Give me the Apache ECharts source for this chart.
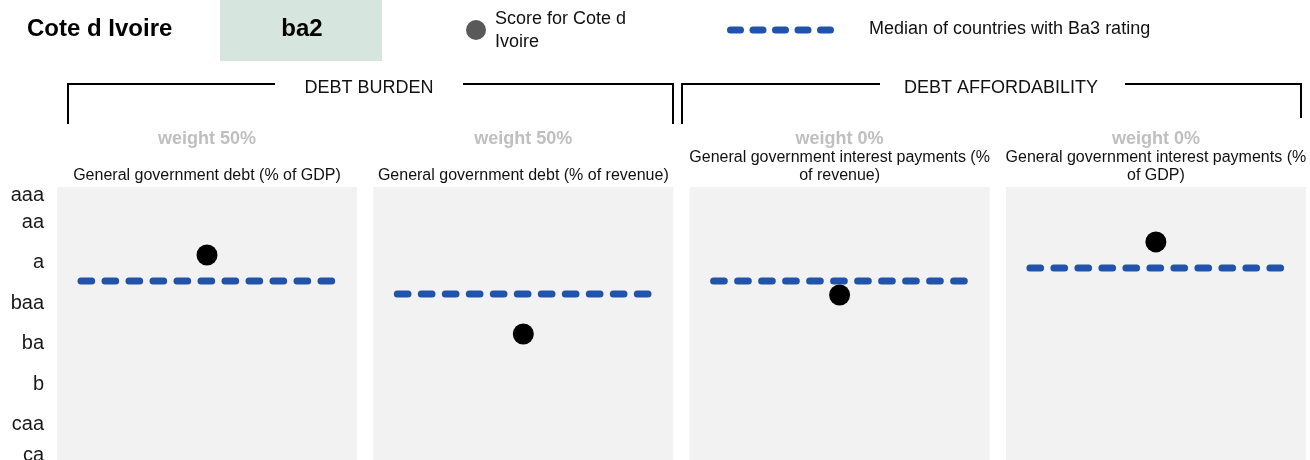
<!DOCTYPE html>
<html>
<head>
<meta charset="utf-8">
<script src="https://cdn.jsdelivr.net/npm/echarts@6/dist/echarts.min.js"></script>
<style>
  html, body { margin: 0; padding: 0; overflow: hidden; background: #fff; }
  #chart { width: 1310px; height: 470px; }
</style>
</head>
<body>
<div id="chart"></div>
<script>
// Scorecard data
const country = 'Cote d Ivoire';
const assignedScore = 'ba2';
const scoreLegend = 'Score for Cote d\nIvoire';
const medianLegend = 'Median of countries with Ba3 rating';
const groupNames = ['DEBT BURDEN', 'DEBT AFFORDABILITY'];
const indicatorNames = [
  'General government debt (% of GDP)',
  'General government debt (% of revenue)',
  'General government interest payments (%\nof revenue)',
  'General government interest payments (%\nof GDP)'
];
const weightLabels = ['weight 50%', 'weight 50%', 'weight 0%', 'weight 0%'];
// scores on the notch scale (1 = aaa, 3 = aa2, 6 = a2, 9 = baa2, ...)
const countryScores = [5.44, 11.29, 8.4, 4.47];
const peerMedians = [7.36, 8.33, 7.36, 6.4];
const ratingTickLabels = ['aaa', 'aa', 'a', 'baa', 'ba', 'b', 'caa', 'ca'];
const ratingTickValues = [1, 3, 6, 9, 12, 15, 18, 20.3];

// Layout
const FONT = "'Liberation Sans', Arial, Helvetica, sans-serif";
const PANEL_LEFT = 57, PANEL_W = 300, PANEL_GAP = 16.3, PANEL_TOP = 187, PANEL_BOTTOM = 5;
const SCALE_MIN = 0.4, SCALE_MAX = 21;
const LINE_FROM = 0.08, LINE_TO = 0.92;
const BLUE = '#2053aa';

const chart = echarts.init(document.getElementById('chart'), null, { renderer: 'canvas' });

const grids = [], xAxes = [], yAxes = [], series = [], graphics = [];

indicatorNames.forEach((name, i) => {
  const left = PANEL_LEFT + i * (PANEL_W + PANEL_GAP);
  grids.push({
    left: left, width: PANEL_W, top: PANEL_TOP, bottom: PANEL_BOTTOM,
    show: true, backgroundColor: '#f2f2f2', borderWidth: 0
  });
  xAxes.push({
    gridIndex: i, type: 'value', min: 0, max: 1, show: false
  });
  yAxes.push({
    gridIndex: i, type: 'value', inverse: true, min: SCALE_MIN, max: SCALE_MAX,
    show: i === 0,
    axisLine: { show: false }, axisTick: { show: false }, splitLine: { show: false },
    axisLabel: {
      show: i === 0,
      customValues: ratingTickValues,
      formatter: v => {
        let k = 0;
        ratingTickValues.forEach((t, j) => { if (Math.abs(t - v) < Math.abs(ratingTickValues[k] - v)) k = j; });
        return ratingTickLabels[k];
      },
      margin: 13, fontSize: 20, color: '#1a1a1a', fontFamily: FONT
    }
  });
  series.push({
    type: 'line', xAxisIndex: i, yAxisIndex: i, symbol: 'none', silent: true,
    data: [[LINE_FROM, peerMedians[i]], [LINE_TO, peerMedians[i]]],
    lineStyle: { color: BLUE, width: 7, type: [10.7, 13.3], cap: 'round', opacity: 1 },
    z: 2
  });
  series.push({
    type: 'scatter', xAxisIndex: i, yAxisIndex: i, symbolSize: 21, silent: true,
    data: [[0.5, countryScores[i]]],
    itemStyle: { color: '#000', opacity: 1 },
    z: 3
  });
  const cx = left + PANEL_W / 2;
  graphics.push({
    type: 'text', x: cx, y: 139.5,
    style: { text: weightLabels[i], align: 'center', verticalAlign: 'middle',
             font: 'bold 18px ' + FONT, fill: '#bfbfbf' }
  });
  graphics.push({
    type: 'text', x: cx, y: 185,
    style: { text: name, align: 'center', verticalAlign: 'bottom', lineHeight: 18,
             font: '16px ' + FONT, fill: '#111' }
  });
});

// Header: country, assigned score, legend
graphics.push(
  { type: 'rect', shape: { x: 220, y: 0, width: 162, height: 61 }, style: { fill: '#d6e6df' } },
  { type: 'text', x: 27, y: 29, style: { text: country, verticalAlign: 'middle', font: 'bold 24px ' + FONT, fill: '#000' } },
  { type: 'text', x: 302, y: 29, style: { text: assignedScore, align: 'center', verticalAlign: 'middle', font: 'bold 24px ' + FONT, fill: '#000' } },
  { type: 'circle', shape: { cx: 476, cy: 30, r: 10 }, style: { fill: '#595959' } },
  { type: 'text', x: 495, y: 30.5, style: { text: scoreLegend, verticalAlign: 'middle', lineHeight: 23, font: '18px ' + FONT, fill: '#111' } },
  { type: 'line', shape: { x1: 730.5, y1: 30, x2: 831.5, y2: 30 },
    style: { stroke: BLUE, lineWidth: 7, lineDash: [10, 12.5], lineCap: 'round' } },
  { type: 'text', x: 869, y: 29, style: { text: medianLegend, verticalAlign: 'middle', font: '18px ' + FONT, fill: '#111' } }
);

// Group brackets
const bracketStyle = { stroke: '#000', lineWidth: 2, fill: null };
graphics.push(
  { type: 'polyline', shape: { points: [[68, 124], [68, 84], [275, 84]] }, style: bracketStyle },
  { type: 'polyline', shape: { points: [[463, 84], [673, 84], [673, 124]] }, style: bracketStyle },
  { type: 'text', x: 369, y: 88, style: { text: groupNames[0], align: 'center', verticalAlign: 'middle', font: '18px ' + FONT, fill: '#111' } },
  { type: 'polyline', shape: { points: [[682, 124], [682, 84], [880, 84]] }, style: bracketStyle },
  { type: 'polyline', shape: { points: [[1125, 84], [1301, 84], [1301, 118]] }, style: bracketStyle },
  { type: 'text', x: 1001, y: 88, style: { text: groupNames[1], align: 'center', verticalAlign: 'middle', font: '18px ' + FONT, fill: '#111' } }
);

chart.setOption({
  animation: false,
  backgroundColor: '#fff',
  grid: grids,
  xAxis: xAxes,
  yAxis: yAxes,
  series: series,
  graphic: { elements: graphics }
});
</script>
</body>
</html>
